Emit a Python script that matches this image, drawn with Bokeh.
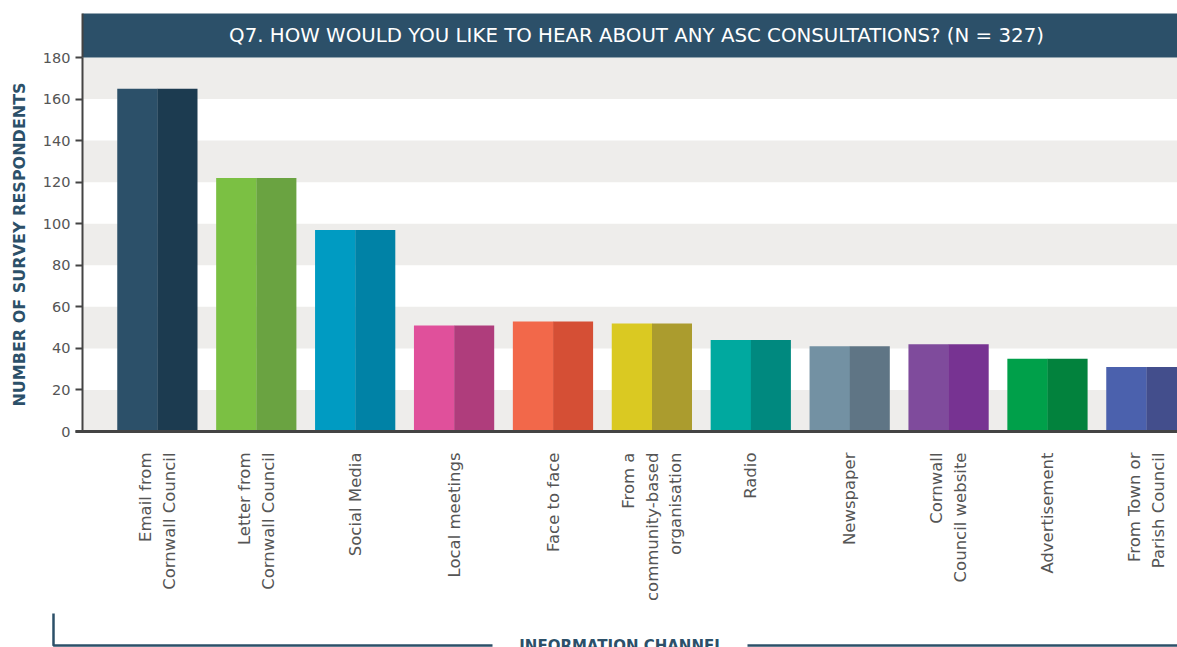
import math
from bokeh.plotting import figure
from bokeh.models import Range1d, FixedTicker, ColumnDataSource
from bokeh.core.properties import value
from bokeh.embed import file_html
from bokeh.resources import INLINE

# ---- data ----
categories = [
    "Email from\nCornwall Council",
    "Letter from\nCornwall Council",
    "Social Media",
    "Local meetings",
    "Face to face",
    "From a\ncommunity-based\norganisation",
    "Radio",
    "Newspaper",
    "Cornwall\nCouncil website",
    "Advertisement",
    "From Town or\nParish Council",
]
respondents = [165, 122, 97, 51, 53, 52, 44, 41, 42, 35, 31]
light_colors = ["#2C5069", "#7BC043", "#009BC2", "#E0509B", "#F2684A", "#DAC922",
                "#00A99F", "#7391A3", "#7F4B9C", "#00A04A", "#4B61AD"]
dark_colors = ["#1C3B50", "#6AA341", "#0082A6", "#AF3D7C", "#D54F35", "#AB9C2E",
               "#00897F", "#5F7585", "#773392", "#02823D", "#434E8C"]
y_ticks = [0, 20, 40, 60, 80, 100, 120, 140, 160, 180]
title_text = "Q7. HOW WOULD YOU LIKE TO HEAR ABOUT ANY ASC CONSULTATIONS? (N = 327)"
y_title = "NUMBER OF SURVEY RESPONDENTS"
x_title = "INFORMATION CHANNEL"

NAVY = "#2C5069"
AXIS = "#444444"
FONT = "DejaVu Sans"

W, H = 1177, 647
PX_X = 98.9          # pixels per category
PX_Y = 374 / 180.0   # pixels per respondent
X0_PX, Y0_PX = 157, 431   # where first category / zero sit on the canvas

def dx(px):  # canvas x -> data x
    return (px - X0_PX) / PX_X

def dy(py):  # canvas y -> data y
    return (Y0_PX - py) / PX_Y

idx = list(range(len(categories)))
half = 80 / PX_X / 2

p = figure(width=W, height=H,
           x_range=Range1d(dx(0), dx(W)), y_range=Range1d(dy(H), dy(0)),
           output_backend="svg", toolbar_location=None,
           min_border=0, min_border_left=0, min_border_right=0,
           min_border_top=0, min_border_bottom=0)
p.outline_line_color = None
p.background_fill_color = "white"
p.border_fill_color = "white"
p.xgrid.grid_line_color = None
p.ygrid.grid_line_color = None

axis_x = dx(82)
top_y = dy(13)
step = y_ticks[1] - y_ticks[0]

# alternating bands (every other interval between ticks, starting at 0)
band_y = [t + step / 2 for t in y_ticks[:-1:2]]
p.hbar(y=band_y, height=step, left=axis_x, right=dx(W),
       fill_color="#EEEDEB", line_color=None, level="underlay")

# title band
p.quad(left=[axis_x], right=[dx(W)], bottom=[y_ticks[-1]], top=[top_y],
       fill_color=NAVY, line_color=None)
p.segment(x0=[axis_x], y0=[y_ticks[-1]], x1=[axis_x], y1=[top_y],
          line_color=AXIS, line_width=2)
p.text(x=[dx(636)], y=[(y_ticks[-1] + top_y) / 2], text=[title_text],
       text_color="white", text_font=value(FONT), text_font_size="19.8px",
       text_align="center", text_baseline="middle")

# bars: two tone
p.vbar(x=[i - half / 2 for i in idx], width=half + 0.005, top=respondents, bottom=0,
       fill_color=light_colors, line_color=None)
p.vbar(x=[i + half / 2 for i in idx], width=half, top=respondents, bottom=0,
       fill_color=dark_colors, line_color=None)

# y axis
ya = p.yaxis[0]
ya.fixed_location = axis_x
ya.bounds = (0, y_ticks[-1])
ya.ticker = FixedTicker(ticks=y_ticks)
ya.axis_line_color = AXIS
ya.axis_line_width = 2
ya.major_tick_line_color = AXIS
ya.major_tick_line_width = 2
ya.major_tick_out = 7
ya.major_tick_in = 0
ya.minor_tick_line_color = None
ya.major_label_text_color = "#555555"
ya.major_label_text_font = FONT
ya.major_label_text_font_size = "14.5px"
ya.major_label_standoff = 5
ya.axis_label = y_title
ya.axis_label_text_font = FONT
ya.axis_label_text_font_style = "bold"
ya.axis_label_text_font_size = "16px"
ya.axis_label_text_color = NAVY
ya.axis_label_standoff = 11

# x axis (baseline only)
xa = p.xaxis[0]
xa.fixed_location = 0
xa.bounds = (dx(75), dx(W))
xa.ticker = FixedTicker(ticks=[])
xa.axis_line_color = AXIS
xa.axis_line_width = 3
xa.major_tick_line_color = None
xa.minor_tick_line_color = None

# category labels
src = ColumnDataSource(dict(x=idx, y=[dy(452)] * len(idx), text=categories))
p.text(x="x", y="y", text="text", source=src, angle=math.pi / 2,
       text_align="right", text_baseline="middle",
       text_font=value(FONT), text_font_size="16.5px", text_color="#555555",
       text_line_height=1.25)

# bottom bracket + axis title
line_y = dy(645)
p.line(x=[dx(53), dx(53), dx(492)], y=[dy(613), line_y, line_y],
       line_color=NAVY, line_width=2.5)
p.line(x=[dx(747), dx(W)], y=[line_y, line_y], line_color=NAVY, line_width=2.5)
p.text(x=[dx(621)], y=[line_y], text=[x_title], text_align="center",
       text_baseline="middle", text_font=value(FONT), text_font_style="bold",
       text_font_size="15px", text_color=NAVY)

open("out.html", "w").write(file_html(p, INLINE))
